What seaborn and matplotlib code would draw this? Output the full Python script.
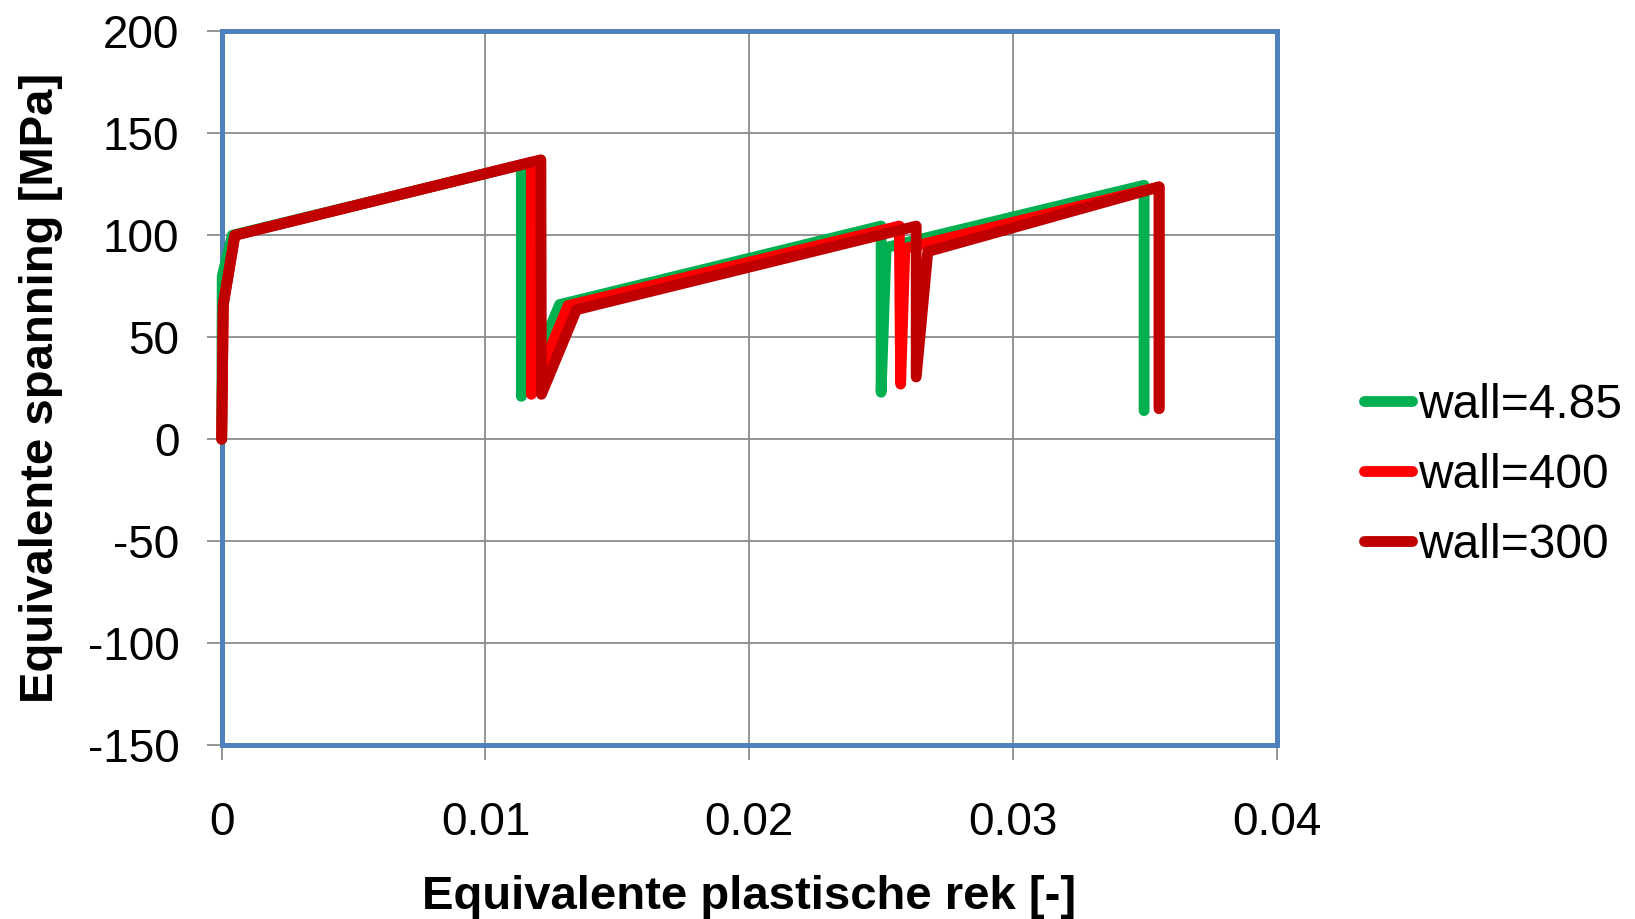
import matplotlib
matplotlib.use("Agg")
import matplotlib.pyplot as plt
import seaborn as sns

# Equivalent plastic strain [-] and equivalent stress [MPa] per wall setting
strain_485 = [0.0, 0.00002, 0.00040, 0.01136, 0.01136, 0.01281, 0.02500, 0.02500, 0.02519, 0.03497, 0.03497]
stress_485 = [0.0, 80.0, 100.0, 134.5, 21.0, 66.0, 104.5, 23.0, 94.0, 124.5, 14.0]

strain_400 = [0.0, 0.00006, 0.00050, 0.01174, 0.01174, 0.01313, 0.02569, 0.02574, 0.02590, 0.03554, 0.03554]
stress_400 = [0.0, 66.0, 100.0, 135.8, 22.0, 65.5, 104.5, 27.0, 93.5, 123.7, 15.0]

strain_300 = [0.0, 0.00006, 0.00050, 0.01210, 0.01212, 0.01345, 0.02633, 0.02633, 0.02677, 0.03554, 0.03554]
stress_300 = [0.0, 66.0, 100.0, 137.0, 22.0, 63.5, 104.5, 30.5, 92.0, 123.7, 15.0]

series_labels = ["wall=4.85", "wall=400", "wall=300"]
series_colors = ["#00B050", "#FF0000", "#C00000"]

x_ticks = [0.0, 0.01, 0.02, 0.03, 0.04]
x_tick_labels = ["0", "0.01", "0.02", "0.03", "0.04"]
y_ticks = [-150, -100, -50, 0, 50, 100, 150, 200]
y_tick_labels = ["-150", "-100", "-50", "0", "50", "100", "150", "200"]

sns.set_theme(style="white")
plt.rcParams["font.family"] = ["Liberation Sans", "DejaVu Sans"]

fig = plt.figure(figsize=(16.35, 9.19), dpi=100)
ax = fig.add_axes([0.1356, 0.1893, 0.6453, 0.7766])

for xs, ys, lab, col in zip([strain_485, strain_400, strain_300],
                            [stress_485, stress_400, stress_300],
                            series_labels, series_colors):
    sns.lineplot(x=xs, y=ys, ax=ax, sort=False, estimator=None, color=col,
                 linewidth=7.8, label=lab, solid_capstyle="round",
                 solid_joinstyle="round", clip_on=False, zorder=3)

ax.set_xlim(0, 0.04)
ax.set_ylim(-150, 200)
ax.set_xticks(x_ticks)
ax.set_xticklabels(x_tick_labels)
ax.set_yticks(y_ticks)
ax.set_yticklabels(y_tick_labels)

ax.grid(True, color="#8c8c8c", linewidth=1.3)
ax.set_axisbelow(True)
for sp in ax.spines.values():
    sp.set_visible(True)
    sp.set_color("#4F81BD")
    sp.set_linewidth(3.6)

ax.tick_params(axis="both", direction="out", length=10.5, width=1.3,
               color="#8c8c8c", labelsize=33, labelcolor="black",
               bottom=True, left=True)
ax.tick_params(axis="x", pad=29.5)
ax.tick_params(axis="y", pad=20)

ax.set_xlabel("Equivalente plastische rek [-]", fontsize=34, fontweight="bold", color="black")
ax.set_ylabel("Equivalente spanning [MPa]", fontsize=34, fontweight="bold", color="black")
ax.xaxis.set_label_coords(0.5, -0.182)
ax.yaxis.set_label_coords(-0.1504, 0.5)

leg = ax.legend(loc="center left", bbox_to_anchor=(0.8345, 0.4825),
                bbox_transform=fig.transFigure, frameon=False, fontsize=34.5,
                handlelength=1.0, handletextpad=0.12, labelspacing=0.52,
                borderpad=0, borderaxespad=0)
for t in leg.get_texts():
    t.set_color("black")
for h in leg.get_lines():
    h.set_solid_capstyle("round")
    h.set_linewidth(7.8)

fig.savefig("out.png", dpi=100)
